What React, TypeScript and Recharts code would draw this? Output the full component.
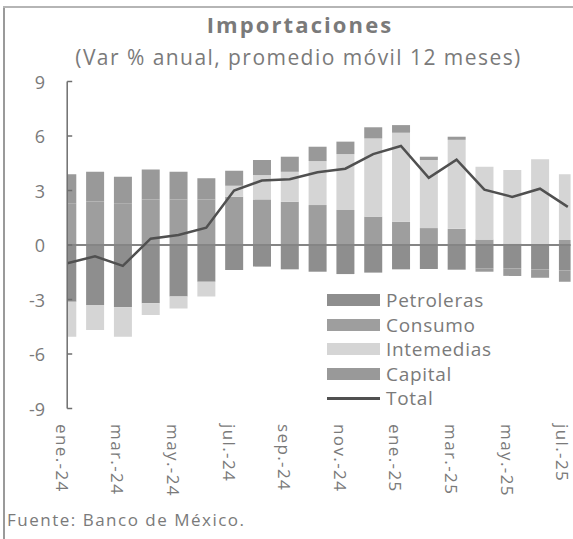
import React from "react";
import {
  ComposedChart,
  Bar,
  Line,
  XAxis,
  YAxis,
  ReferenceLine,
} from "recharts";

const months = [
  "ene.-24", "feb.-24", "mar.-24", "abr.-24", "may.-24", "jun.-24", "jul.-24",
  "ago.-24", "sep.-24", "oct.-24", "nov.-24", "dic.-24", "ene.-25", "feb.-25",
  "mar.-25", "abr.-25", "may.-25", "jun.-25", "jul.-25",
];

const petroleras = [-3.12, -3.3, -3.43, -3.21, -2.84, -2.02, -1.38, -1.19, -1.34, -1.47, -1.6, -1.52, -1.34, -1.32, -1.36, -1.3, -1.3, -1.35, -1.4];
const consumo = [2.3, 2.4, 2.3, 2.5, 2.5, 2.5, 2.66, 2.51, 2.38, 2.2, 1.93, 1.56, 1.28, 0.93, 0.89, 0.3, 0.08, 0.05, 0.28];
const intermedias = [-1.93, -1.38, -1.62, -0.64, -0.65, -0.82, 0.6, 1.34, 1.65, 2.42, 3.07, 4.31, 4.9, 3.75, 4.9, 4.01, 4.05, 4.67, 3.62];
const capital = [1.6, 1.63, 1.46, 1.66, 1.53, 1.17, 0.83, 0.83, 0.83, 0.79, 0.69, 0.61, 0.42, 0.18, 0.17, -0.17, -0.4, -0.45, -0.62];
const total = [-1.0, -0.62, -1.15, 0.35, 0.55, 0.95, 3.0, 3.55, 3.62, 4.0, 4.2, 5.0, 5.45, 3.7, 4.7, 3.05, 2.65, 3.1, 2.1];

const yTicks = [-9, -6, -3, 0, 3, 6, 9];
const xTickIdx = [0, 2, 4, 6, 8, 10, 12, 14, 16, 18];

const data = months.map((m, i) => ({
  idx: i,
  mes: m,
  Petroleras: petroleras[i],
  Consumo: consumo[i],
  Intemedias: intermedias[i],
  Capital: capital[i],
  Total: total[i],
}));

const FONT = "'Open Sans', Lato, sans-serif";
const TXT = "#7a7a7a";

const COLORS = {
  Petroleras: "#8e8e8e",
  Consumo: "#9e9e9e",
  Intemedias: "#d5d5d5",
  Capital: "#999999",
  Total: "#505050",
};

const AXIS_X = 67.2;

const XTick = (props: any) => {
  const { x, payload } = props;
  const label = months[payload.value] ?? "";
  return (
    <text
      transform={`translate(${x - 5}, 424) rotate(90)`}
      x={0}
      y={0}
      textAnchor="start"
      dominantBaseline="central"
      fill={TXT}
      fontSize={17}
      letterSpacing={1.4}
      fontFamily={FONT}
    >
      {label}
    </text>
  );
};

const YTick = (props: any) => {
  const { y, payload } = props;
  return (
    <g>
      <line x1={AXIS_X} x2={AXIS_X + 5} y1={y} y2={y} stroke="#6e6e6e" strokeWidth={1.5} />
      <text
        x={45}
        y={y}
        textAnchor="end"
        dominantBaseline="central"
        fill={TXT}
        fontSize={18}
        fontFamily={FONT}
      >
        {payload.value}
      </text>
    </g>
  );
};

const legendItems = ["Petroleras", "Consumo", "Intemedias", "Capital", "Total"];

export default function App() {
  return (
    <div
      style={{
        position: "absolute",
        left: 0,
        top: 0,
        width: 573,
        height: 539,
        background: "#fff",
        overflow: "hidden",
        fontFamily: FONT,
      }}
    >
      <div style={{ position: "absolute", left: 3, top: 6, width: 2, height: 533, background: "#9a9a9a" }} />
      <div style={{ position: "absolute", left: 3, top: 6, width: 570, height: 2, background: "#b5b5b5" }} />
      <div
        style={{
          position: "absolute",
          left: 0,
          width: 600,
          top: 9,
          textAlign: "center",
          fontWeight: 700,
          fontSize: 22,
          letterSpacing: 2.1,
          color: TXT,
        }}
      >
        Importaciones
      </div>
      <div
        style={{
          position: "absolute",
          left: 0,
          width: 597,
          top: 43,
          textAlign: "center",
          fontSize: 21,
          letterSpacing: 1.45,
          color: TXT,
        }}
      >
        (Var % anual, promedio móvil 12 meses)
      </div>
      <ComposedChart
        width={573}
        height={539}
        data={data}
        stackOffset="sign"
        margin={{ top: 81.5, left: AXIS_X - 60, right: 2.4, bottom: 100.5 }}
        style={{ position: "absolute", left: 0, top: 0 }}
      >
        <XAxis
          dataKey="idx"
          type="number"
          domain={[0, 18.1]}
          ticks={xTickIdx}
          allowDataOverflow
          axisLine={false}
          tickLine={false}
          height={30}
          tick={<XTick />}
          interval={0}
        />
        <YAxis
          type="number"
          domain={[-9, 9]}
          ticks={yTicks}
          width={60}
          axisLine={{ stroke: "#6e6e6e", strokeWidth: 1.5 }}
          tickLine={false}
          tick={<YTick />}
          interval={0}
        />
        <Bar dataKey="Petroleras" stackId="a" fill={COLORS.Petroleras} barSize={18} isAnimationActive={false} />
        <Bar dataKey="Consumo" stackId="a" fill={COLORS.Consumo} barSize={18} isAnimationActive={false} />
        <Bar dataKey="Intemedias" stackId="a" fill={COLORS.Intemedias} barSize={18} isAnimationActive={false} />
        <Bar dataKey="Capital" stackId="a" fill={COLORS.Capital} barSize={18} isAnimationActive={false} />
        <ReferenceLine y={0} stroke="#858585" strokeWidth={2} />
        <Line
          dataKey="Total"
          type="linear"
          stroke={COLORS.Total}
          strokeWidth={2.5}
          dot={false}
          isAnimationActive={false}
        />
      </ComposedChart>
      <div style={{ position: "absolute", left: 327, top: 288 }}>
        {legendItems.map((k) => (
          <div key={k} style={{ display: "flex", alignItems: "center", height: 24.5 }}>
            {k === "Total" ? (
              <div style={{ width: 53, height: 3, background: COLORS.Total }} />
            ) : (
              <div style={{ width: 53, height: 12, background: (COLORS as any)[k] }} />
            )}
            <span style={{ marginLeft: 6, fontSize: 19, letterSpacing: 0.7, color: TXT, lineHeight: "20px" }}>{k}</span>
          </div>
        ))}
      </div>
      <div style={{ position: "absolute", left: 7, top: 508, fontSize: 17, letterSpacing: 1.5, color: TXT }}>
        Fuente: Banco de México.
      </div>
    </div>
  );
}
